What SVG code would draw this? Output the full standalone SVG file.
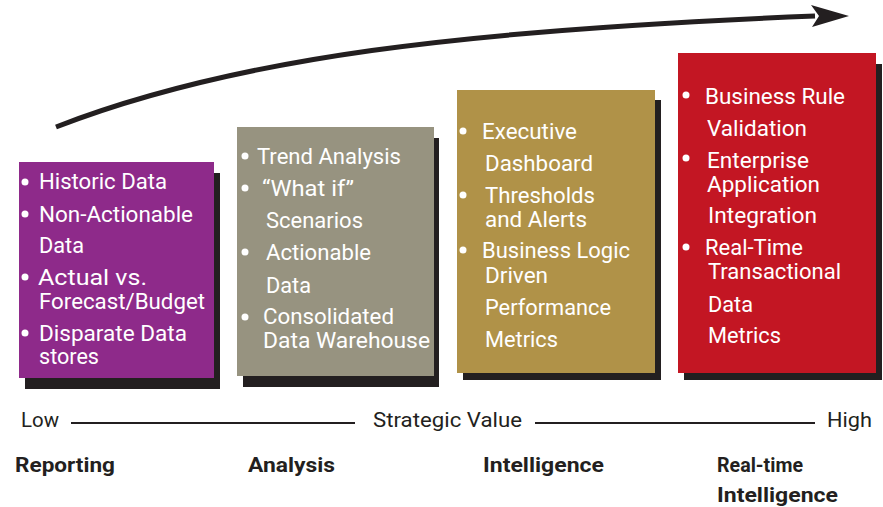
<svg xmlns="http://www.w3.org/2000/svg" width="883" height="507" viewBox="0 0 883 507">
<style>
.t{font-family:Roboto,"Liberation Sans",sans-serif;font-size:22px;fill:#ffffff}
.b{fill:#ffffff}
.sh{fill:#231f20}
.ax{font-family:Roboto,"Liberation Sans",sans-serif;font-size:21px;fill:#231f20}
.lb{font-family:Roboto,"Liberation Sans",sans-serif;font-size:21px;font-weight:bold;fill:#231f20}
</style>
<rect width="883" height="507" fill="#ffffff"/>
<g id="connectors">
<path d="M56,127 C236,57 465,30 815,16" fill="none" stroke="#231f20" stroke-width="5"/>
<polygon points="849,16 811,5 819,16 812,27" fill="#231f20"/>
<line x1="71" y1="423" x2="355" y2="423" stroke="#231f20" stroke-width="2"/>
<line x1="535" y1="423" x2="815" y2="423" stroke="#231f20" stroke-width="2"/>
</g>
<g id="reporting">
<rect class="sh" x="25" y="173" width="195" height="216"/>
<rect x="19" y="162" width="195" height="216" fill="#8e2a8a"/>
<circle class="b" cx="25" cy="182" r="3.5"/>
<circle class="b" cx="25" cy="214" r="3.5"/>
<circle class="b" cx="25" cy="277" r="3.5"/>
<circle class="b" cx="25" cy="333" r="3.5"/>
<text class="t" x="39" y="189" textLength="128" lengthAdjust="spacingAndGlyphs">Historic Data</text>
<text class="t" x="39" y="222" textLength="154" lengthAdjust="spacingAndGlyphs">Non-Actionable</text>
<text class="t" x="39" y="253" textLength="45" lengthAdjust="spacingAndGlyphs">Data</text>
<text class="t" x="38" y="285" textLength="109" lengthAdjust="spacingAndGlyphs">Actual vs.</text>
<text class="t" x="39" y="309" textLength="166" lengthAdjust="spacingAndGlyphs">Forecast/Budget</text>
<text class="t" x="39" y="341" textLength="148" lengthAdjust="spacingAndGlyphs">Disparate Data</text>
<text class="t" x="39" y="364" textLength="60" lengthAdjust="spacingAndGlyphs">stores</text>
</g>
<g id="analysis">
<rect class="sh" x="243" y="138" width="196" height="249"/>
<rect x="237" y="127" width="197" height="249" fill="#979380"/>
<circle class="b" cx="245" cy="156" r="3.5"/>
<circle class="b" cx="245" cy="188" r="3.5"/>
<circle class="b" cx="245" cy="252" r="3.5"/>
<circle class="b" cx="245" cy="317" r="3.5"/>
<text class="t" x="257" y="164" textLength="144" lengthAdjust="spacingAndGlyphs">Trend Analysis</text>
<text class="t" x="262" y="196" textLength="92" lengthAdjust="spacingAndGlyphs">“What if”</text>
<text class="t" x="266" y="228" textLength="97" lengthAdjust="spacingAndGlyphs">Scenarios</text>
<text class="t" x="266" y="260" textLength="105" lengthAdjust="spacingAndGlyphs">Actionable</text>
<text class="t" x="266" y="293" textLength="45" lengthAdjust="spacingAndGlyphs">Data</text>
<text class="t" x="263" y="324" textLength="131" lengthAdjust="spacingAndGlyphs">Consolidated</text>
<text class="t" x="263" y="348" textLength="167" lengthAdjust="spacingAndGlyphs">Data Warehouse</text>
</g>
<g id="intelligence">
<rect class="sh" x="463" y="100" width="198" height="280"/>
<rect x="457" y="90" width="198" height="283" fill="#b09248"/>
<circle class="b" cx="463" cy="131" r="3.5"/>
<circle class="b" cx="463" cy="195" r="3.5"/>
<circle class="b" cx="463" cy="250" r="3.5"/>
<text class="t" x="482" y="139" textLength="95" lengthAdjust="spacingAndGlyphs">Executive</text>
<text class="t" x="485" y="171" textLength="108" lengthAdjust="spacingAndGlyphs">Dashboard</text>
<text class="t" x="485" y="203" textLength="110" lengthAdjust="spacingAndGlyphs">Thresholds</text>
<text class="t" x="485" y="227" textLength="102" lengthAdjust="spacingAndGlyphs">and Alerts</text>
<text class="t" x="482" y="258" textLength="148" lengthAdjust="spacingAndGlyphs">Business Logic</text>
<text class="t" x="485" y="283" textLength="63" lengthAdjust="spacingAndGlyphs">Driven</text>
<text class="t" x="485" y="315" textLength="126" lengthAdjust="spacingAndGlyphs">Performance</text>
<text class="t" x="485" y="347" textLength="73" lengthAdjust="spacingAndGlyphs">Metrics</text>
</g>
<g id="realtime">
<rect class="sh" x="684" y="64" width="198" height="316"/>
<rect x="678" y="53" width="198" height="320" fill="#c31623"/>
<circle class="b" cx="686" cy="95" r="3.5"/>
<circle class="b" cx="686" cy="158" r="3.5"/>
<circle class="b" cx="686" cy="247" r="3.5"/>
<text class="t" x="705" y="104" textLength="140" lengthAdjust="spacingAndGlyphs">Business Rule</text>
<text class="t" x="707" y="136" textLength="100" lengthAdjust="spacingAndGlyphs">Validation</text>
<text class="t" x="707" y="168" textLength="102" lengthAdjust="spacingAndGlyphs">Enterprise</text>
<text class="t" x="707" y="192" textLength="113" lengthAdjust="spacingAndGlyphs">Application</text>
<text class="t" x="708" y="223" textLength="109" lengthAdjust="spacingAndGlyphs">Integration</text>
<text class="t" x="705" y="255" textLength="98" lengthAdjust="spacingAndGlyphs">Real-Time</text>
<text class="t" x="708" y="279" textLength="133" lengthAdjust="spacingAndGlyphs">Transactional</text>
<text class="t" x="708" y="312" textLength="45" lengthAdjust="spacingAndGlyphs">Data</text>
<text class="t" x="708" y="343" textLength="73" lengthAdjust="spacingAndGlyphs">Metrics</text>
</g>
<g id="axis">
<text class="ax" x="21" y="427" textLength="38" lengthAdjust="spacingAndGlyphs">Low</text>
<text class="ax" x="373" y="427" textLength="149" lengthAdjust="spacingAndGlyphs">Strategic Value</text>
<text class="ax" x="827" y="427" textLength="45" lengthAdjust="spacingAndGlyphs">High</text>
</g>
<g id="labels">
<text class="lb" x="15" y="472" textLength="100" lengthAdjust="spacingAndGlyphs">Reporting</text>
<text class="lb" x="248" y="472" textLength="87" lengthAdjust="spacingAndGlyphs">Analysis</text>
<text class="lb" x="483" y="472" textLength="121" lengthAdjust="spacingAndGlyphs">Intelligence</text>
<text class="lb" x="717" y="472" textLength="86" lengthAdjust="spacingAndGlyphs">Real-time</text>
<text class="lb" x="717" y="502" textLength="121" lengthAdjust="spacingAndGlyphs">Intelligence</text>
</g>
</svg>
